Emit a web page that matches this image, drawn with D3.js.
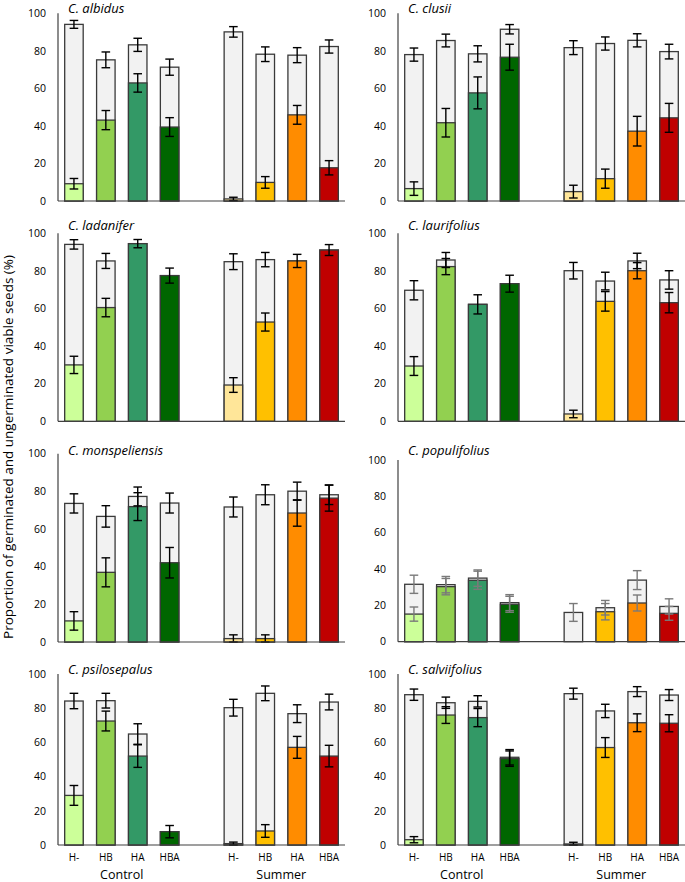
<!DOCTYPE html>
<html>
<head>
<meta charset="utf-8">
<script src="https://cdn.jsdelivr.net/npm/d3@7"></script>
<style>
  html, body { margin: 0; padding: 0; background: #ffffff; }
  svg { display: block; }
  text { font-family: "Open Sans", "Noto Sans", sans-serif; fill: #000; }
</style>
</head>
<body>
<svg id="chart" width="685" height="882"></svg>
<script>
// ---------------- DATA ----------------
const species = ["C. albidus", "C. clusii", "C. ladanifer", "C. laurifolius",
                 "C. monspeliensis", "C. populifolius", "C. psilosepalus", "C. salviifolius"];
const treatments = ["H-", "HB", "HA", "HBA"];
const seasons = ["Control", "Summer"];
const yTicks = [0, 20, 40, 60, 80, 100];

// order in each row: Control H-, HB, HA, HBA, Summer H-, HB, HA, HBA
const viable = [
  [94.1, 75.2, 83.2, 71.3, 90.1, 78.2, 77.7, 82.3],
  [78.0, 85.5, 78.4, 91.5, 81.7, 83.9, 85.6, 79.6],
  [94.1, 85.3, 94.5, 77.5, 84.9, 86.0, 85.3, 91.1],
  [69.7, 85.8, 62.2, 73.2, 80.1, 74.6, 85.3, 75.2],
  [73.6, 66.7, 77.3, 73.8, 71.7, 78.2, 80.1, 78.2],
  [31.6, 31.4, 35.0, 21.5, 16.1, 18.7, 33.9, 19.4],
  [84.2, 84.4, 64.9, 7.8, 80.3, 88.7, 76.8, 83.6],
  [87.9, 83.2, 84.0, 51.3, 88.5, 78.4, 89.7, 87.7]
];
const viableSE = [
  [2.1, 4.2, 3.5, 4.3, 2.8, 3.9, 4.0, 3.5],
  [3.5, 3.4, 4.3, 2.5, 3.7, 3.5, 3.5, 3.9],
  [2.5, 4.0, 2.2, 4.0, 4.2, 3.8, 3.5, 2.9],
  [5.1, 4.0, 5.1, 4.5, 4.4, 4.7, 4.1, 4.9],
  [5.1, 5.7, 5.0, 5.3, 5.3, 5.3, 4.8, 5.2],
  [5.0, 4.5, 4.5, 4.4, 4.9, 4.0, 5.2, 4.2],
  [4.5, 4.3, 6.0, 3.6, 4.9, 4.3, 5.2, 4.6],
  [3.3, 3.3, 3.3, 4.5, 3.2, 3.9, 2.9, 3.2]
];
const germinated = [
  [9.2, 43.1, 62.9, 39.4, 1.1, 9.9, 45.9, 17.7],
  [6.6, 41.7, 57.6, 76.6, 5.0, 11.9, 37.2, 44.3],
  [30.0, 60.5, 94.5, 77.5, 19.3, 52.8, 85.3, 91.1],
  [29.4, 82.3, 62.2, 73.2, 3.9, 63.8, 80.1, 63.1],
  [11.2, 37.0, 71.9, 42.1, 1.8, 1.8, 68.5, 76.4],
  [15.2, 30.3, 33.8, 20.6, 0, 16.5, 21.3, 15.6],
  [29.0, 72.5, 52.0, 7.8, 0.8, 8.2, 57.1, 52.0],
  [3.1, 76.0, 74.5, 50.5, 0.6, 57.0, 71.5, 71.2]
];
const germinatedSE = [
  [2.8, 5.1, 4.9, 5.0, 0.9, 3.1, 5.0, 3.8],
  [3.6, 7.6, 8.5, 6.9, 3.4, 5.1, 7.9, 7.7],
  [4.6, 4.9, 2.2, 4.0, 3.9, 4.8, 3.5, 2.9],
  [5.0, 4.3, 5.1, 4.5, 2.0, 5.2, 4.3, 5.4],
  [4.9, 7.7, 7.4, 8.1, 2.0, 2.0, 7.0, 6.9],
  [3.9, 4.5, 5.0, 4.4, 0, 4.5, 4.4, 3.8],
  [5.8, 5.8, 6.6, 3.6, 0.9, 3.7, 6.4, 6.3],
  [1.8, 4.9, 5.3, 4.5, 1.0, 5.8, 5.2, 5.0]
];

// ---------------- STYLE / LAYOUT ----------------
const colors = ["#ccff99", "#92d050", "#339966", "#006600",
                "#ffe699", "#ffc000", "#ff8c00", "#c00000"];
const ungermFill = "#f2f2f2";
const outline = "#3a3a3a";

const colX = [[58, 345], [398, 685]];
// [y at 100, y at 0, title center y] per panel
const panelY = [
  [13.3, 201, 8], [13.3, 201, 8],
  [233.3, 421.3, 225], [233.3, 421.3, 225],
  [453.7, 642, 450], [460, 641.7, 450],
  [674, 845, 669], [674, 845, 669]
];

const svg = d3.select("#chart");

const slots = [];
seasons.forEach((s, si) => {
  treatments.forEach(t => slots.push(s + "|" + t));
  if (si === 0) slots.push("gap");
});

species.forEach((name, p) => {
  const col = p % 2;
  const [xa, xb] = colX[col];
  const [y100, y0, ty] = panelY[p];
  const x = d3.scaleBand().domain(slots).range([xa, xb]).paddingInner(0.42).paddingOuter(0.21);
  const y = d3.scaleLinear().domain([0, 100]).range([y0, y100]);
  const g = svg.append("g");

  const items = [];
  seasons.forEach((s, si) => treatments.forEach((t, ti) => {
    const i = si * 4 + ti;
    items.push({ key: s + "|" + t, i, v: viable[p][i], vse: viableSE[p][i],
                 g: germinated[p][i], gse: germinatedSE[p][i] });
  }));

  // y axis tick labels
  g.selectAll(".yt").data(yTicks).join("text")
    .attr("x", xa - 12).attr("y", d => y(d))
    .attr("dy", "0.36em").attr("text-anchor", "end")
    .style("font-size", "10.5px").text(d => d);

  // total viable bars
  g.selectAll(".tot").data(items).join("rect")
    .attr("x", d => x(d.key)).attr("width", x.bandwidth())
    .attr("y", d => y(d.v)).attr("height", d => y(0) - y(d.v))
    .attr("fill", ungermFill).attr("stroke", outline).attr("stroke-width", 1.3);

  // germinated bars
  g.selectAll(".ger").data(items.filter(d => d.g > 0)).join("rect")
    .attr("x", d => x(d.key)).attr("width", x.bandwidth())
    .attr("y", d => y(d.g)).attr("height", d => y(0) - y(d.g))
    .attr("fill", d => colors[d.i]).attr("stroke", outline).attr("stroke-width", 1.3);

  const errColor = name === "C. populifolius" ? "#7a7a7a" : "#000";
  const cap = 4.3;
  function errBars(data, valF, seF) {
    const eg = g.append("g").attr("stroke", errColor).attr("stroke-width", 1.4).attr("fill", "none");
    data.forEach(d => {
      const cx = x(d.key) + x.bandwidth() / 2;
      const hi = y(valF(d) + seF(d)), lo = y(Math.max(0, valF(d) - seF(d)));
      eg.append("line").attr("x1", cx).attr("x2", cx).attr("y1", hi).attr("y2", lo);
      eg.append("line").attr("x1", cx - cap).attr("x2", cx + cap).attr("y1", hi).attr("y2", hi);
      eg.append("line").attr("x1", cx - cap).attr("x2", cx + cap).attr("y1", lo).attr("y2", lo);
    });
  }
  errBars(items, d => d.v, d => d.vse);
  errBars(items.filter(d => d.g > 0 && d.g < d.v), d => d.g, d => d.gse);

  // axes lines
  g.append("line").attr("x1", xa).attr("x2", xa).attr("y1", y(100)).attr("y2", y(0))
    .attr("stroke", "#404040").attr("stroke-width", 1.2);
  g.append("line").attr("x1", xa).attr("x2", xb).attr("y1", y(0)).attr("y2", y(0))
    .attr("stroke", "#404040").attr("stroke-width", 1.2);

  // title
  g.append("text").attr("x", xa + 10).attr("y", ty).attr("dy", "0.36em")
    .style("font-size", "13px").style("font-style", "italic").text(name);

  // bottom labels
  if (p >= 6) {
    g.selectAll(".xl").data(items).join("text")
      .attr("x", d => x(d.key) + x.bandwidth() / 2).attr("y", 857).attr("dy", "0.36em")
      .attr("text-anchor", "middle").style("font-size", "10px")
      .text(d => treatments[d.i % 4]);
    seasons.forEach(s => {
      const cx = (x(s + "|HB") + x(s + "|HA") + x.bandwidth()) / 2;
      g.append("text").attr("x", cx).attr("y", 874).attr("dy", "0.36em")
        .attr("text-anchor", "middle").style("font-size", "12.5px").text(s);
    });
  }
});

svg.append("text")
  .attr("transform", "translate(8,447) rotate(-90)")
  .attr("text-anchor", "middle").attr("dy", "0.36em")
  .style("font-size", "13.5px")
  .text("Proportion of germinated and ungerminated viable seeds (%)");
</script>
</body>
</html>
